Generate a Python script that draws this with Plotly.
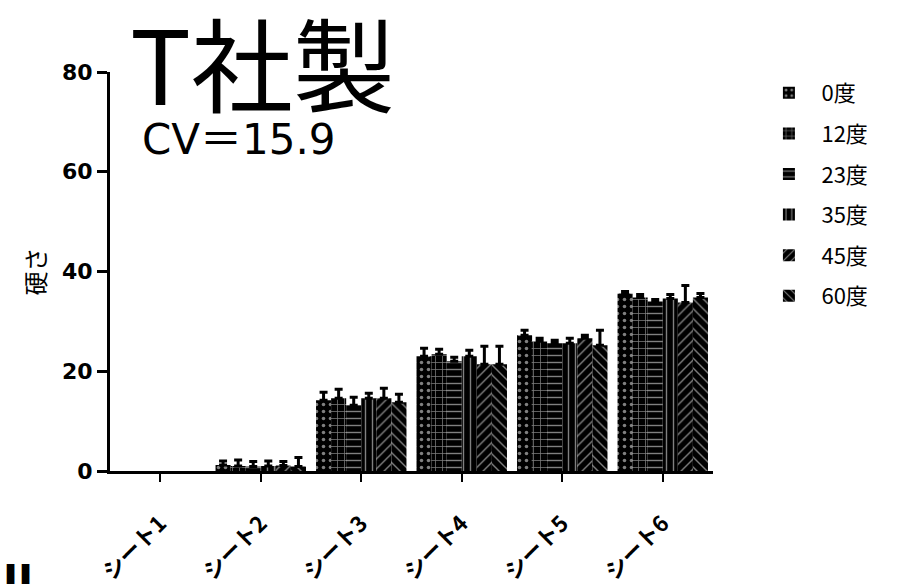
import plotly.graph_objects as go

# Sheet categories and the six measurement angles
sheets = ["シート1", "シート2", "シート3", "シート4", "シート5", "シート6"]
angles = ["0度", "12度", "23度", "35度", "45度", "60度"]

# Mean hardness per sheet for each angle (sheet 1: no reading)
hard_0 = [None, 1.2, 14.2, 23.0, 27.2, 35.6]
hard_12 = [None, 1.0, 14.6, 23.4, 26.0, 34.8]
hard_23 = [None, 0.9, 13.2, 22.0, 25.6, 34.0]
hard_35 = [None, 1.0, 14.6, 23.0, 25.6, 34.6]
hard_45 = [None, 1.1, 14.6, 21.4, 26.6, 33.8]
hard_60 = [None, 0.9, 13.8, 21.4, 25.2, 34.8]

# Upper error (SD) per sheet for each angle
err_0 = [0, 0.8, 1.6, 1.6, 1.0, 0.4]
err_12 = [0, 1.2, 1.8, 1.0, 0.6, 0.6]
err_23 = [0, 1.0, 1.6, 0.8, 0.6, 0.4]
err_35 = [0, 1.0, 1.0, 1.2, 1.0, 0.8]
err_45 = [0, 0.8, 2.0, 3.6, 0.6, 3.4]
err_60 = [0, 1.8, 1.6, 3.6, 3.0, 0.8]

means = [hard_0, hard_12, hard_23, hard_35, hard_45, hard_60]
errors = [err_0, err_12, err_23, err_35, err_45, err_60]
patterns = [".", "+", "-", "|", "/", "\\"]

fig = go.Figure()
for name, m, e, pat in zip(angles, means, errors, patterns):
    fig.add_trace(go.Bar(
        x=sheets, y=m, name=name, legendgroup=name,
        marker=dict(
            color="black",
            line=dict(color="black", width=0),
            pattern=dict(shape=pat, fgcolor="white", bgcolor="black",
                         size=7, solidity=0.2, fillmode="overlay"),
        ),
        error_y=dict(type="data", array=e,
                     arrayminus=[0] * len(e),
                     symmetric=False, color="black", thickness=3, width=4),
    ))

fig.update_layout(
    width=904, height=584,
    margin=dict(l=110, r=191, t=72, b=113),
    paper_bgcolor="white", plot_bgcolor="white",
    barmode="group", bargap=0.1, bargroupgap=0,
    font=dict(family="Noto Sans CJK JP", color="black"),
    legend=dict(x=1.072, y=1.0, xanchor="left", yanchor="top",
                traceorder="grouped", tracegroupgap=9, itemwidth=55,
                font=dict(size=22, family="Noto Sans CJK JP")),
    xaxis=dict(
        range=[-0.5, 5.5], showline=True, linecolor="black", linewidth=3,
        ticks="outside", ticklen=8, tickwidth=2, tickcolor="black",
        tickangle=-45, showgrid=False, ticklabelstandoff=20,
        automargin=False,
        tickfont=dict(size=22, family="Noto Sans CJK JP", weight="bold"),
    ),
    yaxis=dict(
        range=[0, 80], tickvals=[0, 20, 40, 60, 80], showline=True,
        linecolor="black", linewidth=3, ticks="outside", ticklen=10,
        tickwidth=2.5, tickcolor="black", showgrid=False, zeroline=False,
        automargin=False,
        tickfont=dict(size=22, family="DejaVu Sans", weight="bold"),
        title=dict(text="硬さ", standoff=10,
                   font=dict(size=24, family="Noto Sans CJK JP")),
    ),
    annotations=[
        dict(text="T社製", xref="paper", yref="paper", x=0.253, y=1.03,
             xanchor="center", yanchor="middle", showarrow=False,
             font=dict(size=102, family="Noto Sans CJK JP")),
        dict(text="CV<span style='font-family:Noto Sans CJK JP'>＝</span>15.9",
             xref="paper", yref="paper", x=0.05, y=0.842,
             xanchor="left", yanchor="middle", showarrow=False,
             font=dict(size=42, family="DejaVu Sans")),
        dict(text="ll", xref="paper", yref="paper", x=-0.18, y=-0.21,
             xanchor="left", yanchor="top", showarrow=False,
             font=dict(size=44, family="DejaVu Sans", weight="bold")),
    ],
)

fig.write_html("out.html")
